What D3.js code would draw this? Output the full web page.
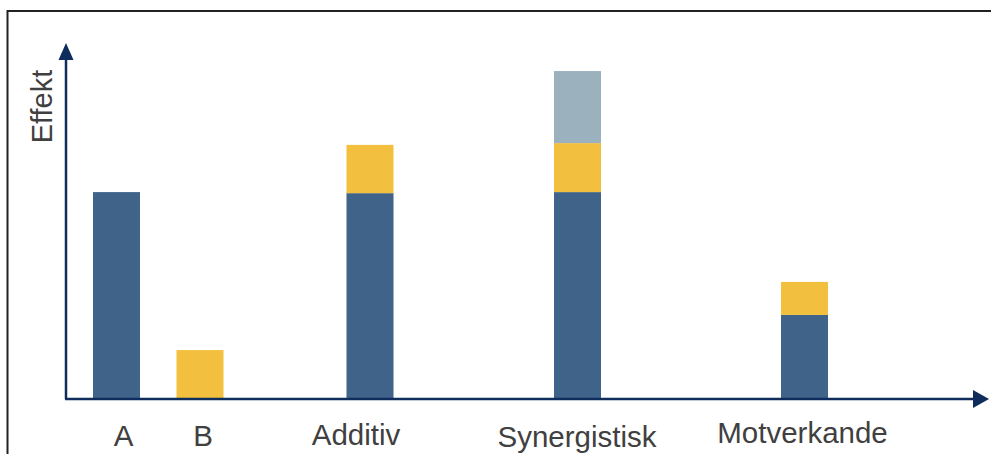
<!DOCTYPE html>
<html>
<head>
<meta charset="utf-8">
<script src="https://cdn.jsdelivr.net/npm/d3@7"></script>
<style>
  html, body { margin: 0; padding: 0; background: #fff; }
  svg { display: block; font-family: "Liberation Sans", Arial, sans-serif; }
</style>
</head>
<body>
<div id="chart"></div>
<script>
// data (arbitrary effect units)
var categories = ["A", "B", "Additiv", "Synergistisk", "Motverkande"]
var effektA = [5.8, 0, 5.77, 5.8, 2.34]
var effektB = [0, 1.35, 1.36, 1.38, 0.93]
var synergi = [0, 0, 0, 2.03, 0]
var seriesKeys = ["a", "b", "syn"]
var colors = {a: "#3f6389", b: "#f2c03e", syn: "#9bb1be"}

var width = 991, height = 454
var axisColor = "#0e2d5c"

var rows = categories.map(function(c, i) {
  return {cat: c, a: effektA[i], b: effektB[i], syn: synergi[i]}
})

var svg = d3.select("#chart").append("svg")
  .attr("width", width)
  .attr("height", height)

// frame (only top and left edges are inside the picture)
svg.append("path")
  .attr("d", "M7.5,454 L7.5,11 L991,11")
  .attr("fill", "none")
  .attr("stroke", "#222")
  .attr("stroke-width", 2)

var y = d3.scaleLinear().domain([0, 10]).range([398, 43])
// bar centres are not evenly spaced in the original
var x = d3.scaleOrdinal().domain(categories).range([116.5, 200, 370, 577.5, 804.5])
var labelX = d3.scaleOrdinal().domain(categories).range([123.5, 203, 356, 577, 802.5])
var labelY = d3.scaleOrdinal().domain(categories).range([446, 446, 445, 447, 443])
var barW = 47

var stack = d3.stack().keys(seriesKeys)(rows)

svg.append("g").selectAll("g")
  .data(stack)
  .enter().append("g")
  .attr("fill", function(d) { return colors[d.key] })
  .selectAll("rect")
  .data(function(d) { return d.filter(function(p) { return p[1] > p[0] }) })
  .enter().append("rect")
  .attr("x", function(d) { return x(d.data.cat) - barW / 2 })
  .attr("y", function(d) { return y(d[1]) })
  .attr("width", barW)
  .attr("height", function(d) { return y(d[0]) - y(d[1]) })

// axes with arrowheads
var x0 = 66, yBase = 399
svg.append("line")
  .attr("x1", x0).attr("y1", yBase)
  .attr("x2", x0).attr("y2", 58)
  .attr("stroke", axisColor).attr("stroke-width", 2.5)
svg.append("path")
  .attr("d", "M" + x0 + ",43 L" + (x0 - 7.5) + ",60 L" + (x0 + 7.5) + ",60 Z")
  .attr("fill", axisColor)

svg.append("line")
  .attr("x1", x0 - 1).attr("y1", yBase)
  .attr("x2", 975).attr("y2", yBase)
  .attr("stroke", axisColor).attr("stroke-width", 2.5)
svg.append("path")
  .attr("d", "M989," + yBase + " L973," + (yBase - 9) + " L973," + (yBase + 9) + " Z")
  .attr("fill", axisColor)

// category labels
svg.append("g").selectAll("text")
  .data(categories)
  .enter().append("text")
  .attr("x", function(d) { return labelX(d) })
  .attr("y", function(d) { return labelY(d) })
  .attr("text-anchor", "middle")
  .attr("font-size", 29.5)
  .attr("fill", "#404040")
  .text(function(d) { return d })

// y-axis title
svg.append("text")
  .attr("transform", "translate(52,106.5) rotate(-90)")
  .attr("text-anchor", "middle")
  .attr("font-size", 29)
  .attr("fill", "#404040")
  .text("Effekt")
</script>
</body>
</html>
